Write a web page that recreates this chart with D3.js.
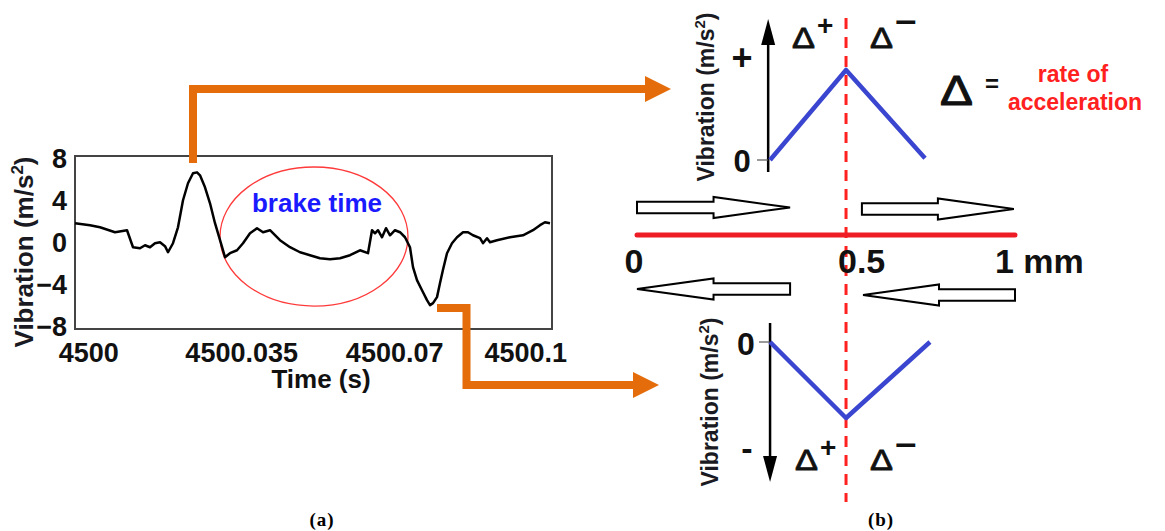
<!DOCTYPE html>
<html>
<head>
<meta charset="utf-8">
<script src="https://cdn.jsdelivr.net/npm/d3@7"></script>
<style>
  body { margin: 0; background: #fff; }
  svg { display: block; font-family: "Liberation Sans", Arial, sans-serif; }
</style>
</head>
<body>
<script>
// ---- (a) measured vibration, time in ms after 4500 s ----
var timeMs = [-3.02, 0.41, 2.70, 6.13, 8.88, 10.25, 11.85, 13.0, 14.14, 15.28, 16.43, 17.57, 18.26,
  19.40, 20.54, 21.69, 22.83, 23.98, 24.89, 25.58, 26.72, 27.87, 29.01, 30.16, 31.30, 32.44,
  34.05, 35.42, 37.02, 38.62, 40.0, 41.59, 43.88, 46.17, 48.46, 50.74, 53.03, 55.32, 57.61,
  59.90, 62.18, 64.01, 64.93, 65.61, 66.30, 67.22, 68.13, 69.05, 70.19, 71.33, 72.48, 73.62,
  74.31, 75.22, 76.37, 77.51, 78.20, 78.89, 79.80, 80.49, 81.17, 82.09, 83.23, 84.38, 85.75,
  86.89, 88.03, 89.64, 90.32, 91.24, 91.92, 93.52, 96.49, 99.47, 101.76, 103.36, 104.50, 105.65];
var vibration = [1.89, 1.70, 1.50, 1.03, 1.22, -0.40, -0.50, -0.21, -0.40, -0.02, 0.08, -0.30, -0.88,
  -0.02, 1.50, 4.08, 5.70, 6.65, 6.74, 6.46, 5.31, 3.79, 1.89, 0.27, -1.35, -0.97,
  -0.69, -0.02, 0.93, 1.41, 1.03, 1.22, 0.27, -0.40, -0.88, -1.16, -1.45, -1.54, -1.45,
  -1.16, -0.69, -0.97, 1.22, 0.93, 1.22, 0.55, 1.41, 0.74, 1.22, 1.03, 0.55, -0.40,
  -2.30, -3.54, -4.50, -5.45, -5.92, -5.73, -5.16, -3.81, -2.55, -0.97, -0.02, 0.55, 1.03,
  1.03, 0.74, 0.46, -0.02, 0.46, 0.08, 0.27, 0.55, 0.74, 1.22, 1.70, 1.98, 1.89];
var xTicks = [4500, 4500.035, 4500.07, 4500.1];
var xTickLabels = ["4500", "4500.035", "4500.07", "4500.1"];
var yTicks = [-8, -4, 0, 4, 8];
// brake time window: centre (ms, m/s2) and radii
var brakeCenter = [51.66, 0.62];
var brakeRadius = [21.5, 6.63];

// ---- (b) schematic, positions in mm ----
var mmTicks = [0, 0.5, 1];
var mmTickLabels = ["0", "0.5", "1 mm"];
var peakMm = 0.553;
var upMm = [0.352, 0.553, 0.762];
var upVib = [0, 1, 0.02];
var downMm = [0.352, 0.553, 0.775];
var downVib = [0, -1, 0];
var travelFrom = [0, 0.595, 0.405, 1.0];
var travelTo = [0.405, 0.997, 0, 0.598];

var orange = "#e46c0a", red = "#ff2020", blue = "#3b46d0";

var svg = d3.select("body").append("svg")
    .attr("width", 1165)
    .attr("height", 531);

// ===== panel (a) =====
var x = d3.scaleLinear().domain([4499.99698, 4500.10611]).range([75, 552]);
var y = d3.scaleLinear().domain([-8.2, 8.3]).range([329, 156]);
var tSec = function(ms) { return 4500 + ms / 1000; };

svg.append("rect")
    .attr("x", 75).attr("y", 156)
    .attr("width", 477).attr("height", 173)
    .attr("fill", "none")
    .attr("stroke", "#444")
    .attr("stroke-width", 2);

var gx = svg.append("g")
    .attr("transform", "translate(0,329)")
    .call(d3.axisBottom(x).tickValues(xTicks).tickSize(0).tickPadding(14)
      .tickFormat(function(d, i) { return xTickLabels[i]; }));
var gy = svg.append("g")
    .attr("transform", "translate(75,0)")
    .call(d3.axisLeft(y).tickValues(yTicks).tickSize(0).tickPadding(8));
[gx, gy].forEach(function(g) {
  g.select(".domain").remove();
  g.selectAll("text")
    .attr("font-family", "Liberation Sans, Arial, sans-serif")
    .style("font-size", "27px")
    .style("font-weight", "bold")
    .attr("fill", "#111");
});

// brake time ellipse
var ecx = tSec(brakeCenter[0]);
svg.append("ellipse")
    .attr("cx", x(ecx))
    .attr("cy", y(brakeCenter[1]))
    .attr("rx", x(ecx + brakeRadius[0] / 1000) - x(ecx))
    .attr("ry", y(0) - y(brakeRadius[1]))
    .attr("fill", "none")
    .attr("stroke", "#ff3a3a")
    .attr("stroke-width", 1.3);

// trace
var line = d3.line()
    .x(function(i) { return x(tSec(timeMs[i])); })
    .y(function(i) { return y(vibration[i]); });
svg.append("path")
    .datum(d3.range(timeMs.length))
    .attr("d", line)
    .attr("fill", "none")
    .attr("stroke", "#000")
    .attr("stroke-width", 2.5)
    .attr("stroke-linejoin", "round");

svg.append("text")
    .attr("x", x(ecx) + 3)
    .attr("y", y(2.95))
    .attr("text-anchor", "middle")
    .style("font-size", "26px")
    .style("font-weight", "bold")
    .attr("fill", "#1a1aff")
    .text("brake time");

// axis titles
svg.append("text")
    .attr("x", 321).attr("y", 388)
    .attr("text-anchor", "middle")
    .style("font-size", "26px").style("font-weight", "bold")
    .attr("fill", "#111")
    .text("Time (s)");

function vibLabel(cx, cy, size) {
  var t = svg.append("text")
      .attr("transform", "translate(" + cx + "," + cy + ") rotate(-90)")
      .attr("text-anchor", "middle")
      .style("font-size", size + "px").style("font-weight", "bold")
      .attr("fill", "#1a1a22");
  t.append("tspan").text("Vibration (m/s");
  t.append("tspan").attr("dy", -size * 0.38).style("font-size", (size * 0.65) + "px").text("2");
  t.append("tspan").attr("dy", size * 0.38).text(")");
}
vibLabel(33, 252, 26);

// orange connectors
function connector(pts, head) {
  svg.append("polyline")
      .attr("points", pts.map(function(p) { return p.join(","); }).join(" "))
      .attr("fill", "none")
      .attr("stroke", orange)
      .attr("stroke-width", 8)
      .attr("stroke-linejoin", "miter");
  svg.append("polygon")
      .attr("points", [[head[0], head[1] - 13], [head[0] + 26, head[1]], [head[0], head[1] + 13]]
        .map(function(p) { return p.join(","); }).join(" "))
      .attr("fill", orange);
}
connector([[193, 163], [193, 89], [648, 89]], [645, 89]);
connector([[437, 308], [466.5, 308], [466.5, 385], [636, 385]], [633, 385]);

// ===== panel (b) =====
var xMm = d3.scaleLinear().domain([0, 1]).range([637, 1015]);
var yUp = d3.scaleLinear().domain([0, 1]).range([160, 70]);
var yDown = d3.scaleLinear().domain([-1, 0]).range([418, 342]);

// dashed marker
svg.append("line")
    .attr("x1", xMm(peakMm)).attr("x2", xMm(peakMm))
    .attr("y1", 18).attr("y2", 502)
    .attr("stroke", red)
    .attr("stroke-width", 3)
    .attr("stroke-dasharray", "11,8");

// displacement line
svg.append("line")
    .attr("x1", xMm(0)).attr("x2", xMm(1))
    .attr("y1", 235).attr("y2", 235)
    .attr("stroke", "#ee1c24")
    .attr("stroke-width", 5)
    .attr("stroke-linecap", "round");

var mmAnchor = ["middle", "start", "start"], mmDx = [-3, 12, -20];
svg.selectAll(".mm")
  .data(mmTicks)
  .enter().append("text")
    .attr("x", function(d, i) { return xMm(d) + mmDx[i]; })
    .attr("y", 273)
    .attr("text-anchor", function(d, i) { return mmAnchor[i]; })
    .style("font-size", "34px").style("font-weight", "bold")
    .attr("fill", "#111")
    .text(function(d, i) { return mmTickLabels[i]; });

// hollow travel arrows
var rowY = [207.5, 209, 289, 295];
travelFrom.forEach(function(f, i) {
  var a = xMm(f), b = xMm(travelTo[i]), m = (a + b) / 2, yc = rowY[i];
  var pts = [[a, yc - 5.8], [m, yc - 5.8], [m, yc - 10.5], [b, yc], [m, yc + 10.5], [m, yc + 5.8], [a, yc + 5.8]];
  svg.append("polygon")
      .attr("points", pts.map(function(p) { return p.join(","); }).join(" "))
      .attr("fill", "#fff")
      .attr("stroke", "#000")
      .attr("stroke-width", 2);
});

// small axes with arrows
function smallAxis(xa, y0, y1, tip) {
  svg.append("line")
      .attr("x1", xa).attr("x2", xa).attr("y1", y0).attr("y2", y1)
      .attr("stroke", "#000").attr("stroke-width", 2.5);
  var dir = tip > y1 ? 1 : -1;
  svg.append("polygon")
      .attr("points", [[xa - 7, tip - dir * 26], [xa, tip], [xa + 7, tip - dir * 26]]
        .map(function(p) { return p.join(","); }).join(" "))
      .attr("fill", "#000");
}
smallAxis(xMm(0.347), 172, 40, 19);
smallAxis(xMm(0.352), 323, 460, 482);

svg.append("line").attr("x1", 757).attr("x2", xMm(0.347)).attr("y1", yUp(0)).attr("y2", yUp(0))
    .attr("stroke", "#555").attr("stroke-width", 1.2);
svg.append("line").attr("x1", 759).attr("x2", xMm(0.352)).attr("y1", yDown(0)).attr("y2", yDown(0))
    .attr("stroke", "#555").attr("stroke-width", 1.2);

function ramp(xs, vs, ys) {
  svg.append("path")
      .datum(d3.range(xs.length))
      .attr("d", d3.line()
        .x(function(i) { return xMm(xs[i]); })
        .y(function(i) { return ys(vs[i]); }))
      .attr("fill", "none")
      .attr("stroke", blue)
      .attr("stroke-width", 4.5)
      .attr("stroke-linejoin", "round");
}
ramp(upMm, upVib, yUp);
ramp(downMm, downVib, yDown);

function bigText(tx, ty, txt, size, anchor) {
  return svg.append("text")
      .attr("x", tx).attr("y", ty)
      .attr("text-anchor", anchor || "middle")
      .style("font-size", size + "px").style("font-weight", "bold")
      .attr("fill", "#111")
      .text(txt);
}
bigText(742, yUp(1.13) + 12, "+", 36);
bigText(742, 172, "0", 31);
bigText(746, 355, "0", 32);
bigText(747, 460, "-", 34);

vibLabel(714, 97, 23);
vibLabel(718, 402, 23);

function delta(dx, base, sup, sx, sy) {
  bigText(dx, base, "\u0394", 30, "start")
    .style("font-weight", "normal")
    .attr("stroke", "#111").attr("stroke-width", 0.8)
    .attr("textLength", 23).attr("lengthAdjust", "spacingAndGlyphs");
  var s = bigText(sx, sy, sup, sup === "+" ? 28 : 30, "start");
  if (sup !== "+") s.attr("textLength", 22).attr("lengthAdjust", "spacingAndGlyphs");
}
delta(792, 48, "+", 817, 35);
delta(870, 48, "\u2212", 895, 32);
delta(795, 470, "+", 820, 457);
delta(870, 470, "\u2212", 895, 455);

bigText(940, 105, "\u0394", 42, "start")
    .style("font-weight", "normal")
    .attr("stroke", "#111").attr("stroke-width", 1)
    .attr("textLength", 33).attr("lengthAdjust", "spacingAndGlyphs");
bigText(985, 92, "=", 24, "start");
bigText(1073, 82, "rate of", 23).attr("fill", red);
bigText(1075, 110, "acceleration", 23).attr("fill", red);

// captions
svg.append("text")
    .attr("x", 322).attr("y", 526)
    .attr("text-anchor", "middle")
    .attr("font-family", "Liberation Serif, Times New Roman, serif")
    .style("font-size", "19px").style("font-weight", "bold")
    .attr("letter-spacing", 1)
    .text("(a)");
svg.append("text")
    .attr("x", 881).attr("y", 526)
    .attr("text-anchor", "middle")
    .attr("font-family", "Liberation Serif, Times New Roman, serif")
    .style("font-size", "19px").style("font-weight", "bold")
    .attr("letter-spacing", 1)
    .text("(b)");
</script>
</body>
</html>
